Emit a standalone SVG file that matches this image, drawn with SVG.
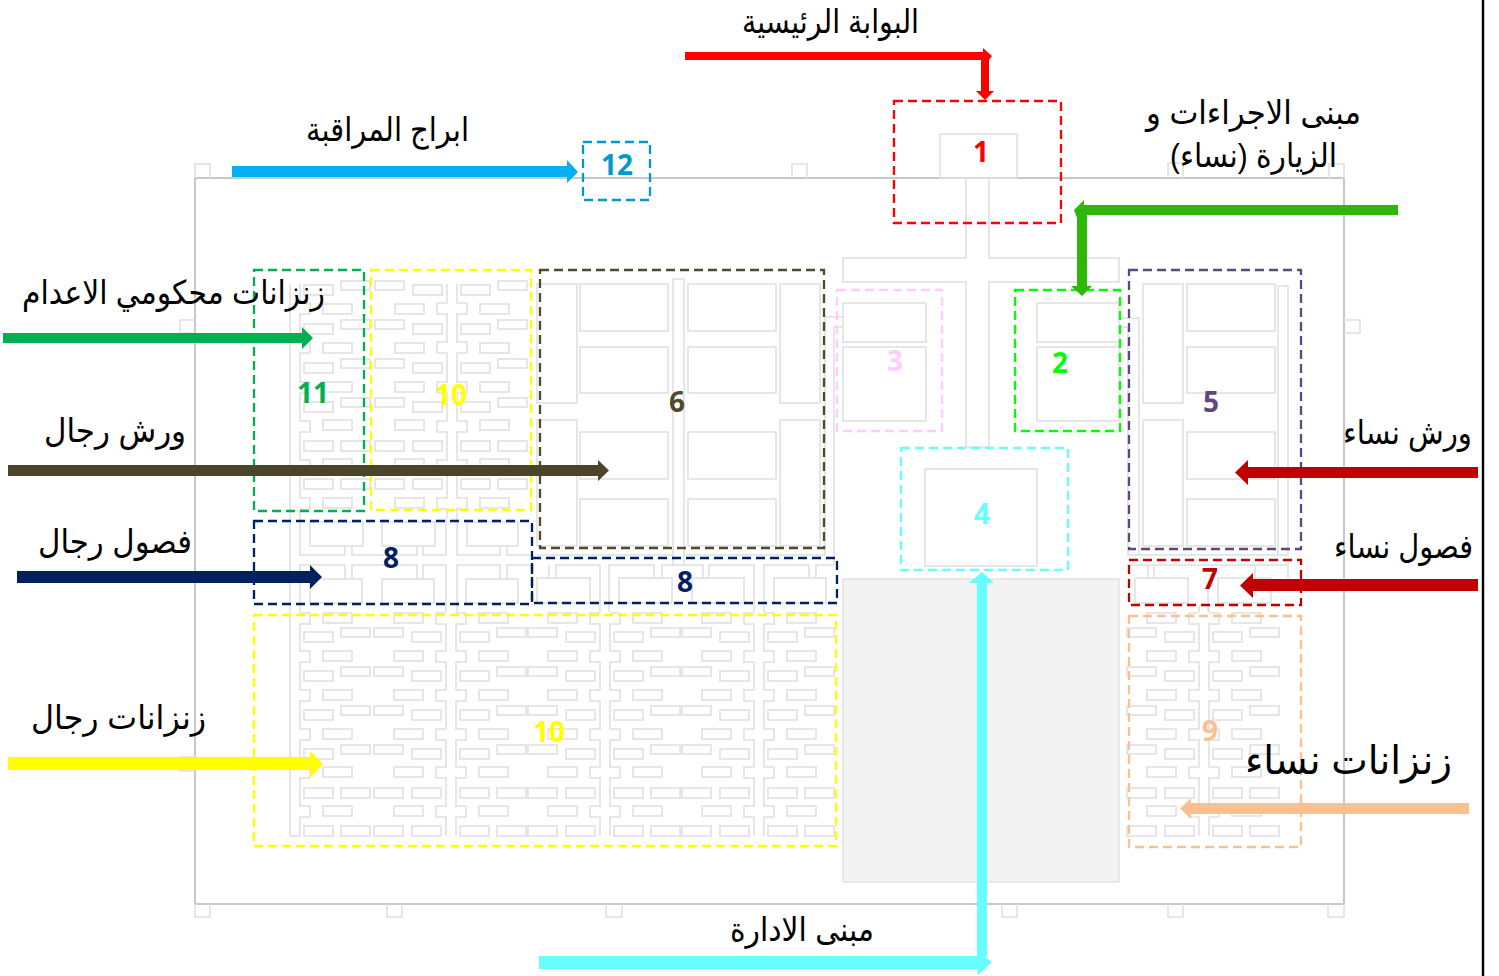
<svg xmlns="http://www.w3.org/2000/svg" xmlns:xlink="http://www.w3.org/1999/xlink" width="1499" height="976" viewBox="0 0 1499 976">
<style>
.p{fill:none;stroke:#e0e0e0;stroke-width:1.6}
.w{fill:none;stroke:#c8c8c8;stroke-width:2}
.d{fill:none;stroke-width:2.3;stroke-dasharray:9 5}
.n{font-family:"Open Sans","Liberation Sans",sans-serif;font-weight:700;font-size:28px;text-anchor:middle}
.t{font-family:"Liberation Sans","DejaVu Sans",sans-serif;font-size:33px;text-anchor:middle;fill:#000;direction:rtl}
</style>
<defs>
<g id="wL" class="p"><rect x="-72" y="-4" width="29" height="9"/><rect x="-34" y="0" width="29" height="10"/></g>
<g id="wR" class="p"><rect x="14" y="0" width="29" height="10"/><rect x="51" y="-4" width="29" height="9"/></g>
<g id="aL" class="p"><rect x="-72" y="0" width="29" height="10"/><rect x="-34" y="0" width="29" height="10"/></g>
<g id="aR" class="p"><rect x="14" y="0" width="29" height="10"/><rect x="51" y="0" width="29" height="10"/></g>
<rect id="sL" class="p" x="-52" width="29" height="10"/>
<rect id="sR" class="p" x="33" width="29" height="10"/>
<g id="colL"><use xlink:href="#wL"/><use xlink:href="#wL" y="39"/><use xlink:href="#wL" y="78"/><use xlink:href="#wL" y="117"/><use xlink:href="#aL" y="156"/><use xlink:href="#aL" y="194"/><use xlink:href="#sL" y="19"/><use xlink:href="#sL" y="58"/><use xlink:href="#sL" y="97"/><use xlink:href="#sL" y="135"/><use xlink:href="#sL" y="174"/></g>
<g id="colR"><use xlink:href="#wR"/><use xlink:href="#wR" y="39"/><use xlink:href="#wR" y="78"/><use xlink:href="#wR" y="117"/><use xlink:href="#aR" y="156"/><use xlink:href="#aR" y="194"/><use xlink:href="#sR" y="19"/><use xlink:href="#sR" y="58"/><use xlink:href="#sR" y="97"/><use xlink:href="#sR" y="135"/><use xlink:href="#sR" y="174"/></g>
<path id="spL" class="p" d="M0,-19H-10V-8H0V19H-10V30H0V58H-10V69H0V97H-10V108H0V135H-10V146H0V174H-10V185H0V204"/>
<path id="spR" class="p" d="M10,-19H20V-8H10V19H20V30H10V58H20V69H10V97H20V108H10V135H20V146H10V174H20V185H10V204"/>
<path id="upL" class="p" d="M0,-1V18H-10V29H0V57H-10V68H0V97H-10V108H0V136H-10V147H0V175H-10V186H0V213H-10V224H0V233"/>
<path id="upR" class="p" d="M10,-1V18H20V29H10V57H20V68H10V97H20V108H10V136H20V147H10V175H20V186H10V213H20V224H10V233"/>
<g id="wk"><rect class="p" width="88" height="47"/><rect class="p" y="63" width="88" height="46"/><rect class="p" y="148" width="88" height="47"/><rect class="p" y="215" width="88" height="47"/></g>
<g id="sd"><rect class="p" width="40" height="119"/><rect class="p" y="136" width="40" height="126"/></g>
</defs>

<g id="plan">
<rect class="w" x="195" y="178" width="1149" height="726"/>
<path class="p" d="M195,178V164H210V178M792,178V164H807V178M1168,178V163H1183V178M1329,178V164H1344V178M195,320H180V333H195M195,757H179V771H195M1344,320H1360V333H1344M195,904V917H210V904M387,904V917H402V904M606,904V917H622V904M1002,904V917H1017V904M1168,904V917H1183V904M1328,904V917H1344V904"/>
<rect x="940" y="134" width="77" height="44" class="p"/>
<path class="p" d="M966,178V258H843V282H966V447H989V282H1119V258H989V178"/>
<rect class="p" x="843" y="303" width="83" height="39"/><rect class="p" x="843" y="347" width="83" height="74"/>
<rect class="p" x="1037" y="303" width="82" height="39"/><rect class="p" x="1037" y="347" width="82" height="74"/>
<rect class="p" x="925" y="469" width="112" height="97"/>
<rect x="843" y="579" width="276" height="303" fill="#f3f3f3" stroke="#dcdcdc" stroke-width="1.2"/>
<path class="p" d="M825,317H843M834,565V327H843M1119,318H1139V555H1278V286H1288V555H1278M1119,327H1128V555H1139"/>
<path class="p" d="M537,555H673V279H684V555H825V317M673,555V565M684,555V565"/>
<use xlink:href="#wk" x="580" y="284"/><use xlink:href="#wk" x="688" y="284"/><use xlink:href="#wk" x="1187" y="284"/>
<use xlink:href="#sd" x="537" y="284"/><use xlink:href="#sd" x="780" y="284"/><use xlink:href="#sd" x="1143" y="284"/>

<g transform="translate(290 285)"><use xlink:href="#colR"/><use xlink:href="#upR"/><use xlink:href="#sR" y="213"/><path class="p" d="M0,-1V233"/></g>
<g transform="translate(447 285)"><use xlink:href="#colL"/><use xlink:href="#colR"/><use xlink:href="#upL"/><use xlink:href="#upR"/><use xlink:href="#sL" y="213"/><use xlink:href="#sR" y="213"/></g>
<g transform="translate(290 632)"><use xlink:href="#colR"/><use xlink:href="#spR"/><use xlink:href="#sR" y="-19"/><path class="p" d="M0,-19V204H10"/></g>
<g transform="translate(446 632)"><use xlink:href="#colL"/><use xlink:href="#colR"/><use xlink:href="#spL"/><use xlink:href="#spR"/><use xlink:href="#sL" y="-19"/><use xlink:href="#sR" y="-19"/></g>
<g transform="translate(600 632)"><use xlink:href="#colL"/><use xlink:href="#colR"/><use xlink:href="#spL"/><use xlink:href="#spR"/><use xlink:href="#sL" y="-19"/><use xlink:href="#sR" y="-19"/></g>
<g transform="translate(754 632)"><use xlink:href="#colL"/><use xlink:href="#colR"/><use xlink:href="#spL"/><use xlink:href="#spR"/><use xlink:href="#sL" y="-19"/><use xlink:href="#sR" y="-19"/></g>
<g transform="translate(1199 632)"><use xlink:href="#colL"/><use xlink:href="#colR"/><use xlink:href="#spL"/><use xlink:href="#spR"/><use xlink:href="#sL" y="-19"/><use xlink:href="#sR" y="-19"/></g>

<path class="p" d="M290,518V612M300,518V555H345V546M352,546V555H417V546M423,546V555H446V518M457,518V555H500V546M507,546V555H532M300,612V565H345V579M352,579V565H417V579M423,579V565H446V612M457,612V565H500V579M507,579V565H532"/>
<rect class="p" x="310" y="522" width="53" height="24"/><rect class="p" x="382" y="522" width="53" height="24"/><rect class="p" x="467" y="522" width="51" height="24"/>
<rect class="p" x="310" y="579" width="52" height="24"/><rect class="p" x="382" y="579" width="52" height="24"/><rect class="p" x="466" y="579" width="52" height="24"/>
<path class="p" d="M549,578V565M556,578V565H600V612M609,612V565H654V578M662,578V565H703V578M709,578V565H754V612M764,612V565H809V578M816,578V565H834"/>
<rect class="p" x="537" y="578" width="53" height="25"/><rect class="p" x="619" y="578" width="53" height="25"/><rect class="p" x="692" y="578" width="52" height="25"/><rect class="p" x="774" y="578" width="52" height="25"/>
<path class="p" d="M1127,565H1288V578M1148,565V578M1154,565V578M1255,565V578M1199,612V605M1209,612V605M1208,589V612"/>
<rect class="p" x="1135" y="578" width="53" height="25"/><rect class="p" x="1218" y="578" width="53" height="25"/>
<line x1="1483" y1="0" x2="1483" y2="976" stroke="#000" stroke-width="2.4"/>
</g>

<g id="node-1"><rect class="d" stroke="#ff0000" x="894" y="101" width="167" height="122"/><text class="n" fill="#ff0000" x="981" y="162">1</text></g>
<g id="node-2"><rect class="d" stroke="#00ff00" x="1015" y="290" width="105" height="141"/><text class="n" fill="#00ff00" x="1060" y="373">2</text></g>
<g id="node-3"><rect class="d" stroke="#ffccff" x="837" y="290" width="105" height="141"/><text class="n" fill="#ffccff" x="895" y="371">3</text></g>
<g id="node-4"><rect class="d" stroke="#66ffff" x="901" y="448" width="167" height="122"/><text class="n" fill="#66ffff" x="982" y="524">4</text></g>
<g id="node-5"><rect class="d" stroke="#5f497a" x="1129" y="270" width="172" height="279"/><text class="n" fill="#5f497a" x="1211" y="412">5</text></g>
<g id="node-6"><rect class="d" stroke="#4f4a2c" x="540" y="270" width="284" height="278"/><text class="n" fill="#4f4a2c" x="677" y="412">6</text></g>
<g id="node-7"><rect class="d" stroke="#c00000" x="1129" y="560" width="172" height="45"/><text class="n" fill="#c00000" x="1210" y="589">7</text></g>
<g id="node-8a"><rect class="d" stroke="#002060" x="254" y="521" width="278" height="83"/><text class="n" fill="#002060" x="391" y="568">8</text></g>
<g id="node-8b"><rect class="d" stroke="#002060" x="532" y="558" width="305" height="45"/><text class="n" fill="#002060" x="685" y="592">8</text></g>
<g id="node-9"><rect class="d" stroke="#fac090" x="1129" y="616" width="172" height="231"/><text class="n" fill="#fac090" x="1210" y="741">9</text></g>
<g id="node-10a"><rect class="d" stroke="#ffff00" x="371" y="270" width="160" height="240"/><text class="n" fill="#ffff00" x="451" y="405">10</text></g>
<g id="node-10b"><rect class="d" stroke="#ffff00" x="254" y="615" width="582" height="231"/><text class="n" fill="#ffff00" x="549" y="742">10</text></g>
<g id="node-11"><rect class="d" stroke="#00b050" x="254" y="270" width="110" height="241"/><text class="n" fill="#00b050" x="313" y="403">11</text></g>
<g id="node-12"><rect class="d" stroke="#0099cc" x="583" y="142" width="67" height="58"/><text class="n" fill="#0099cc" x="617" y="175">12</text></g>

<g id="connectors">
<polygon fill="#ff0000" points="685,52 983,52 983,48 992,56 989,60 989,91 994,91 985,100 976,91 981,91 981,60 685,60"/>
<polygon fill="#2db70a" points="1398,205 1398,215 1087,215 1087,286 1092,286 1082,296 1071,286 1077,286 1077,218 1074,210 1084,200 1084,205"/>
<polygon fill="#00b0f0" points="232,166 567,166 567,160 578,172 567,183 567,177 232,177"/>
<polygon fill="#00b050" points="3,333 302,333 302,327 313,338 302,349 302,343 3,343"/>
<polygon fill="#4a442a" points="8,465 598,465 598,460 609,470.500 598,481 598,476 8,476"/>
<polygon fill="#002060" points="17,571 310,571 310,565 322,577 310,589 310,583 17,583"/>
<polygon fill="#ffff00" points="8,757 310,757 310,751 323,764 310,778 310,770 8,770"/>
<polygon fill="#c00000" points="1478,467 1248,467 1248,460 1235,472.500 1248,485 1248,478 1478,478"/>
<polygon fill="#c00000" points="1478,579 1253,579 1253,573 1240,585.500 1253,598 1253,591 1478,591"/>
<polygon fill="#fac090" points="1469,803 1191,803 1191,798 1180,808.500 1191,819 1191,814 1469,814"/>
<polygon fill="#66ffff" points="982,572 994,583 987,583 987,956 984,956 992,962 978,975 977,969 539,969 539,956 977,956 977,583 969,583"/>
</g>

<g id="labels">
<text class="t" x="830.500" y="33" textLength="177" lengthAdjust="spacingAndGlyphs">البوابة الرئيسية</text>
<text class="t" x="1253.500" y="124" textLength="215" lengthAdjust="spacingAndGlyphs">مبنى الاجراءات و</text>
<text class="t" x="1253.500" y="167" textLength="167" lengthAdjust="spacingAndGlyphs">الزيارة (نساء)</text>
<text class="t" x="387.500" y="141" textLength="163" lengthAdjust="spacingAndGlyphs">ابراج المراقبة</text>
<text class="t" x="173.500" y="304" textLength="303" lengthAdjust="spacingAndGlyphs">زنزانات محكومي الاعدام</text>
<text class="t" x="115" y="442" textLength="142" lengthAdjust="spacingAndGlyphs">ورش رجال</text>
<text class="t" x="115" y="553" textLength="154" lengthAdjust="spacingAndGlyphs">فصول رجال</text>
<text class="t" x="118.500" y="729" textLength="175" lengthAdjust="spacingAndGlyphs">زنزانات رجال</text>
<text class="t" x="1407.500" y="444" textLength="129" lengthAdjust="spacingAndGlyphs">ورش نساء</text>
<text class="t" x="1403.500" y="558" textLength="139" lengthAdjust="spacingAndGlyphs">فصول نساء</text>
<text class="t" x="1348.500" y="774" style="font-size:40px" textLength="207" lengthAdjust="spacingAndGlyphs">زنزانات نساء</text>
<text class="t" x="802" y="941" textLength="144" lengthAdjust="spacingAndGlyphs">مبنى الادارة</text>
</g>
</svg>
